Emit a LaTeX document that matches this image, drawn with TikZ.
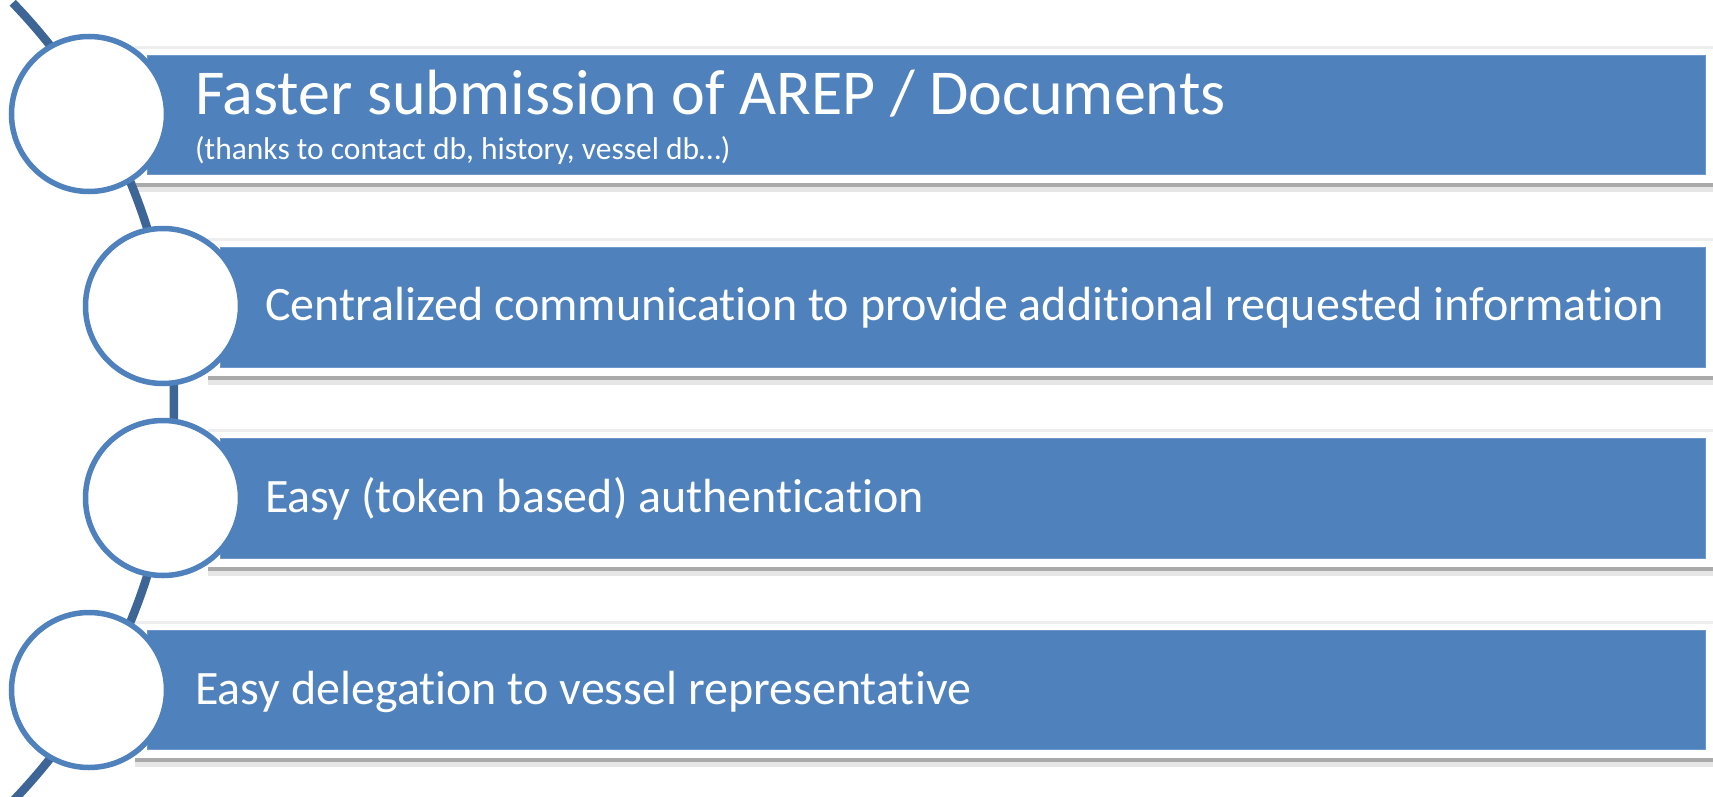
\documentclass[tikz,border=0pt]{standalone}
\usepackage{fontspec}
\setmainfont[Ligatures={NoCommon}]{Carlito}
\definecolor{barblue}{RGB}{79,129,189}
\definecolor{barrim}{RGB}{110,152,204}
\definecolor{arcblue}{RGB}{61,101,150}
\definecolor{shdark}{RGB}{170,170,170}
\definecolor{shlight}{RGB}{230,230,230}
\definecolor{toprim}{RGB}{238,238,238}
\tikzset{
  bar/.style={draw=barrim, line width=1pt, fill=barblue, inner sep=0pt, anchor=north west},
  ring/.style={circle, draw=barblue, line width=5.5pt, fill=white, minimum size=155pt, inner sep=0pt},
  label/.style={text=white, anchor=base west, inner sep=0pt},
}
\newcommand{\barshadow}[3]{% left, top, bottom
  \fill[toprim] (#1,#2-9) rectangle (1713,#2-6);
  \fill[shdark] (#1,#3+9) rectangle (1713,#3+13);
  \fill[shlight] (#1,#3+13) rectangle (1713,#3+18);
}
\begin{document}
\begin{tikzpicture}[x=1pt,y=-1pt]
\useasboundingbox (0,0) rectangle (1713,797);
\clip (0,0) rectangle (1713,797);
% shadows / rims
\barshadow{135}{55}{174}
\barshadow{208}{247}{367}
\barshadow{208}{438}{558}
\barshadow{135}{630}{749}
% connecting arc
\draw[arcblue, line width=8.5pt] ([shift={(44:574.7)}]-400.7,402) arc[start angle=44, end angle=-44, radius=574.7];
% bars
\node[bar, minimum width=1558pt, minimum height=119pt] (b1) at (147,55) {};
\node[bar, minimum width=1485pt, minimum height=120pt] (b2) at (220,247) {};
\node[bar, minimum width=1485pt, minimum height=120pt] (b3) at (220,438) {};
\node[bar, minimum width=1558pt, minimum height=119pt] (b4) at (147,630) {};
% circles
\node[ring] (c1) at (89,114) {};
\node[ring] (c2) at (163,306) {};
\node[ring] (c3) at (163,498) {};
\node[ring] (c4) at (89,690) {};
% texts
\node[label, font=\fontsize{64}{72}\selectfont] (t1) at (195,115) {Faster submission of AREP / Documents};
\node[label, font=\fontsize{31.5}{36}\selectfont] (t1b) at (195,160) {(thanks to contact db, history, vessel db…)};
\node[label, font=\fontsize{48}{56}\selectfont] (t2) at (265,320) {Centralized communication to provide additional requested information};
\node[label, font=\fontsize{48}{56}\selectfont] (t3) at (265,512) {Easy (token based) authentication};
\node[label, font=\fontsize{48}{56}\selectfont] (t4) at (195,704) {Easy delegation to vessel representative};
\end{tikzpicture}
\end{document}
